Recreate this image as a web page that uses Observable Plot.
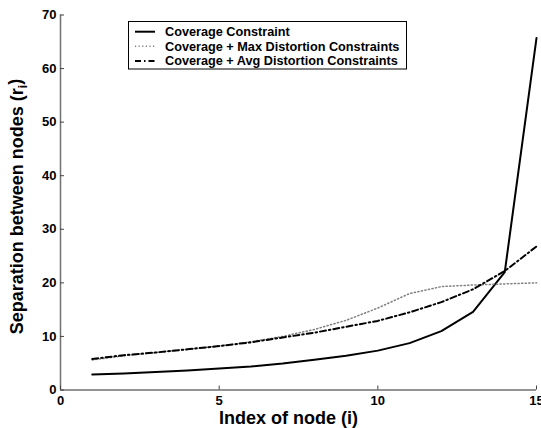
<!DOCTYPE html>
<html><head><meta charset="utf-8">
<script src="https://cdn.jsdelivr.net/npm/d3@7"></script>
<script src="https://cdn.jsdelivr.net/npm/@observablehq/plot@0.6"></script>
<style>
body{margin:0;background:#fff}
#chart svg{font-family:"Liberation Sans",Arial,sans-serif;overflow:visible}
</style>
</head><body><div id="chart"></div>
<script>
const nodeIndex = [1,2,3,4,5,6,7,8,9,10,11,12,13,14,15];
const coverage = [2.9,3.1,3.35,3.65,4.0,4.4,4.95,5.65,6.4,7.35,8.75,11.0,14.6,22.0,65.7];
const maxDist  = [5.6,6.4,7.0,7.6,8.2,9.0,10.0,11.3,13.0,15.3,18.0,19.3,19.6,19.8,20.0];
const avgDist  = [5.8,6.5,7.0,7.6,8.2,8.9,9.8,10.7,11.8,12.9,14.5,16.4,18.8,22.2,26.8];
const seriesNames = ["Coverage Constraint","Coverage + Max Distortion Constraints","Coverage + Avg Distortion Constraints"];
const xTicks = [0,5,10,15];
const yTicks = [0,10,20,30,40,50,60,70];
const xLabel = "Index of node (i)";
const yLabelMain = "Separation between nodes (r";
const yLabelSub = "i";

const styles = [
  {stroke:"#000", strokeWidth:2, dash:null},
  {stroke:"#808080", strokeWidth:1.5, dash:"1.2,2.4"},
  {stroke:"#000", strokeWidth:2, dash:"6,3,1.5,3"}
];
const seriesVals = [coverage, maxDist, avgDist];
const toRows = vals => nodeIndex.map((x,i)=>({x, y: vals[i]}));

const W=541,H=428,mL=60,mR=5,mT=14.5,mB=38.5;
const font = '"Liberation Sans",Arial,sans-serif';

const plot = Plot.plot({
  width:W, height:H, marginLeft:mL, marginRight:mR, marginTop:mT, marginBottom:mB,
  style:{fontFamily:font, fontSize:"13px", fontWeight:"bold", color:"#000", background:"#fff", overflow:"visible"},
  x:{domain:[0,15]},
  y:{domain:[0,70]},
  marks:[
    Plot.ruleY([0], {stroke:"#707070", strokeWidth:1.5}),
    Plot.ruleX([0], {stroke:"#707070", strokeWidth:1.5}),
    Plot.tickX(xTicks, {x:d=>d, insetTop:H-mT-mB-4, stroke:"#444"}),
    Plot.tickY(yTicks, {y:d=>d, insetRight:W-mL-mR-4, stroke:"#444"}),
    Plot.axisX(xTicks, {tickSize:0, tickPadding:6, label:null, fontSize:13, fontWeight:"bold", fill:"#000"}),
    Plot.axisY(yTicks, {tickSize:0, tickPadding:4, label:null, fontSize:13, fontWeight:"bold", fill:"#000"}),
    ...seriesVals.map((vals,i)=>Plot.line(toRows(vals), {x:"x", y:"y", stroke:styles[i].stroke, strokeWidth:styles[i].strokeWidth, strokeDasharray:styles[i].dash})),
    Plot.text([xLabel], {frameAnchor:"bottom", textAnchor:"middle", lineAnchor:"middle", dy:28.5, dx:-10, fontSize:18, fontWeight:"bold", fill:"#000"}),
    Plot.text([yLabelMain], {frameAnchor:"left", textAnchor:"middle", lineAnchor:"middle", rotate:-90, dx:-43, dy:4, fontSize:18, fontWeight:"bold", fill:"#000"})
  ]
});
document.getElementById("chart").appendChild(plot);

// subscript in y label
const svg = d3.select(plot);
svg.selectAll("text").filter(function(){return this.textContent===yLabelMain;}).each(function(){
  const t = d3.select(this);
  t.text("");
  t.append("tspan").text(yLabelMain);
  t.append("tspan").attr("dy","0.3em").attr("font-size","12px").text(yLabelSub);
  t.append("tspan").attr("dy","-0.3em").text(")");
});

// legend
const lg = svg.append("g").attr("font-family",font).attr("font-size",12.7).attr("font-weight","bold").attr("text-anchor","start");
lg.append("rect").attr("x",128.5).attr("y",21.5).attr("width",278).attr("height",47.5)
  .attr("fill","#fff").attr("stroke","#000").attr("stroke-width",1);
const rowY = [31.7,46.3,61];
seriesNames.forEach((name,i)=>{
  lg.append("line").attr("x1",135).attr("x2",155).attr("y1",rowY[i]).attr("y2",rowY[i])
    .attr("stroke",styles[i].stroke).attr("stroke-width",styles[i].strokeWidth)
    .attr("stroke-dasharray",styles[i].dash);
  lg.append("text").attr("x",165).attr("y",rowY[i]).attr("dy","0.35em").attr("fill","#000").text(name);
});
</script>
</body></html>
